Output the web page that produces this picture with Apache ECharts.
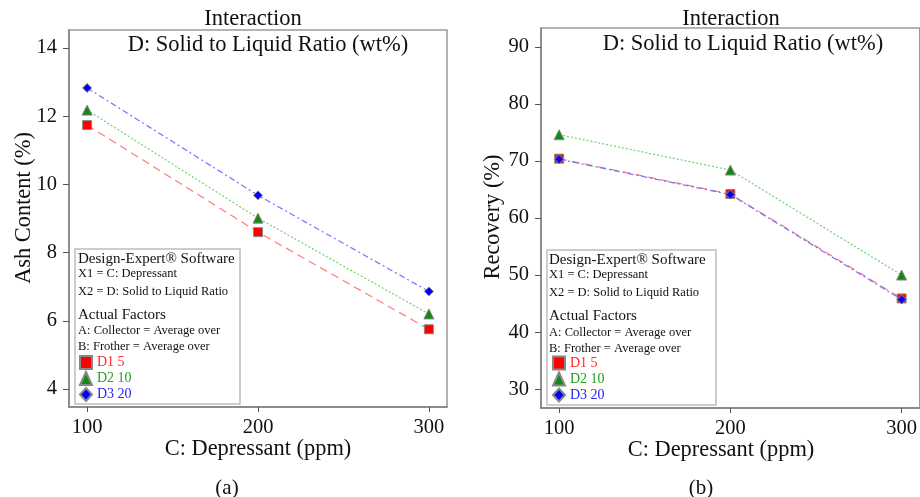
<!DOCTYPE html>
<html>
<head>
<meta charset="utf-8">
<script src="https://cdn.jsdelivr.net/npm/echarts@6/dist/echarts.min.js"></script>
<style>
  html, body { margin: 0; padding: 0; background: #fff; }
  #chart { width: 920px; height: 497px; }
</style>
</head>
<body>
<div id="chart"></div>
<script>
// values
var depressant = [100, 200, 300];
var xTicks = [100, 200, 300];

var ashD1 = [11.74, 8.60, 5.75];
var ashD2 = [12.18, 9.01, 6.20];
var ashD3 = [12.83, 9.68, 6.86];
var ashTicks = [4, 6, 8, 10, 12, 14];

var recD1 = [70.4, 64.2, 45.9];
var recD2 = [74.6, 68.4, 50.0];
var recD3 = [70.3, 64.1, 45.7];
var recTicks = [30, 40, 50, 60, 70, 80, 90];

var levelNames = ['D1 5', 'D2 10', 'D3 20'];

var serif = '"Liberation Serif", "DejaVu Serif", serif';
var mychart = echarts.init(document.getElementById('chart'));

function pairs(ys) {
  return depressant.map(function (x, i) { return [x, ys[i]]; });
}

var looks = [
  { symbol: 'rect', size: 9, fill: '#ff0000', line: '#ff7a7a', type: [8, 5], text: '#ff2a2a' },
  { symbol: 'triangle', size: 10, fill: '#108a10', line: '#6fd46f', type: [2, 2], text: '#22a022' },
  { symbol: 'diamond', size: 9, fill: '#0000ff', line: '#7474ff', type: [6, 3, 2, 3], text: '#2424ff' }
];

function makeSeries(values, idx) {
  return values.map(function (v, k) {
    var l = looks[k];
    return {
      name: levelNames[k],
      type: 'line',
      xAxisIndex: idx,
      yAxisIndex: idx,
      data: pairs(v),
      symbol: l.symbol,
      symbolSize: l.size,
      showAllSymbol: true,
      lineStyle: { color: l.line, width: 1.2, type: l.type },
      itemStyle: { color: l.fill, borderColor: '#888', borderWidth: 1 },
      emphasis: { disabled: true },
      z: 3 + k
    };
  });
}

function xAxisFor(idx) {
  return {
    type: 'value', gridIndex: idx, min: 89.4, max: 310.6,
    splitLine: { show: false },
    axisLine: { show: true, lineStyle: { color: '#808080', width: 1.5 } },
    axisTick: { show: true, length: 5, customValues: xTicks, lineStyle: { color: '#555' } },
    axisLabel: { customValues: xTicks, fontFamily: serif, fontSize: 20.5, color: '#111', margin: 10 }
  };
}

function yAxisFor(idx, lo, hi, ticks) {
  return {
    type: 'value', gridIndex: idx, min: lo, max: hi,
    splitLine: { show: false },
    axisLine: { show: true, lineStyle: { color: '#808080', width: 1.5 } },
    axisTick: { show: true, length: 6, customValues: ticks, lineStyle: { color: '#555' } },
    axisLabel: { customValues: ticks, fontFamily: serif, fontSize: 20.5, color: '#111', margin: 12 }
  };
}

function txt(x, y, s, size, opts) {
  opts = opts || {};
  return {
    type: 'text', x: x, y: y, rotation: opts.rot || 0, z: 10,
    style: {
      text: s, fontFamily: serif, fontSize: size,
      fill: opts.color || '#111',
      align: opts.align || 'center', verticalAlign: 'middle'
    }
  };
}

function infoBox(x0, y0, w, h, tx, rows) {
  var out = [{
    type: 'rect', z: 8,
    shape: { x: x0, y: y0, width: w, height: h },
    style: { fill: '#fff', stroke: '#bdbdbd', lineWidth: 1.5 }
  }];
  var lines = [
    ['Design-Expert\u00ae Software', 15],
    ['X1 = C: Depressant', 12.5],
    ['X2 = D: Solid to Liquid Ratio', 12.5],
    ['Actual Factors', 15],
    ['A: Collector = Average over', 12.5],
    ['B: Frother = Average over', 12.5]
  ];
  lines.forEach(function (l, i) {
    out.push(txt(tx, rows[i], l[0], l[1], { align: 'left' }));
  });
  return out;
}

function legendFor(left, top) {
  return {
    left: left, top: top, orient: 'vertical', padding: 0,
    itemWidth: 12, itemHeight: 13, itemGap: 1, selectedMode: false, z: 12,
    textStyle: { fontFamily: serif, fontSize: 14, lineHeight: 13 },
    data: levelNames.map(function (n, k) {
      return { name: n, icon: looks[k].symbol, textStyle: { color: looks[k].text } };
    })
  };
}

var option = {
  animation: false,
  backgroundColor: '#fff',
  grid: [
    { left: 69, top: 30, width: 378, height: 377, show: true, borderColor: '#9a9a9a', borderWidth: 1.5 },
    { left: 541, top: 28, width: 380, height: 380, show: true, borderColor: '#9a9a9a', borderWidth: 1.5 }
  ],
  xAxis: [xAxisFor(0), xAxisFor(1)],
  yAxis: [yAxisFor(0, 3.47, 14.53, ashTicks), yAxisFor(1, 26.7, 93.3, recTicks)],
  legend: [legendFor(79, 355), legendFor(552, 355.5)],
  series: makeSeries([ashD1, ashD2, ashD3], 0).concat(makeSeries([recD1, recD2, recD3], 1)),
  graphic: [
    txt(253, 19, 'Interaction', 22.5),
    txt(268, 45, 'D: Solid to Liquid Ratio (wt%)', 22.5),
    txt(731, 19, 'Interaction', 22.5),
    txt(743, 44, 'D: Solid to Liquid Ratio (wt%)', 22.5),
    txt(24, 208, 'Ash Content (%)', 22.4, { rot: Math.PI / 2 }),
    txt(493, 217, 'Recovery (%)', 22.4, { rot: Math.PI / 2 }),
    txt(258, 449, 'C: Depressant (ppm)', 22.4),
    txt(721, 450, 'C: Depressant (ppm)', 22.4),
    txt(227, 488, '(a)', 21),
    txt(701, 488, '(b)', 21)
  ]
    .concat(infoBox(75, 249, 165, 155, 78, [259, 274, 291.5, 315, 331, 347]))
    .concat(infoBox(547, 250, 169, 155, 549, [260, 275, 292.5, 316.5, 332.5, 349]))
};

mychart.setOption(option);
</script>
</body>
</html>
